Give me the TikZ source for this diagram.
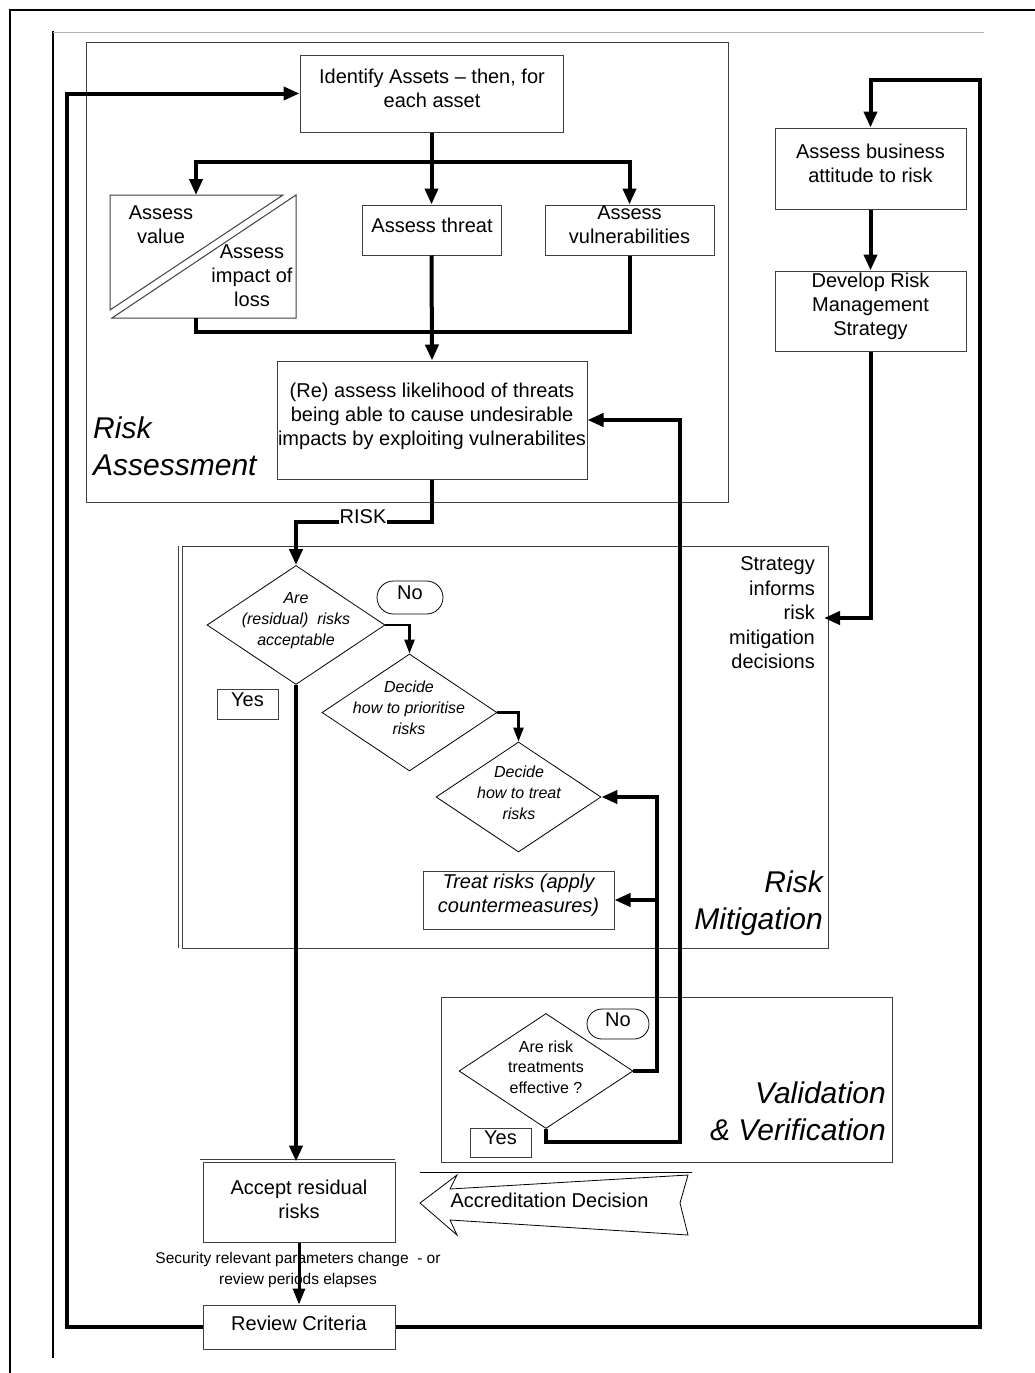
\documentclass[tikz,border=0pt]{standalone}
\usepackage{fontspec}
\setmainfont{Liberation Sans}
\usetikzlibrary{arrows.meta,shapes.geometric,shapes.misc}
\begin{document}
\begin{tikzpicture}[x=1pt,y=-1pt,
  frame/.style={draw=black!75,line width=1pt},
  boxonly/.style={draw=black!75,line width=1pt,fill=white,rectangle,inner sep=0pt},
  txt/.style={align=center,inner sep=0pt,font=\fontsize{20}{24}\selectfont},
  smalltxt/.style={align=center,inner sep=0pt,font=\fontsize{16}{20.5}\selectfont},
  ditxt/.style={align=center,inner sep=0pt,font=\fontsize{16}{21}\selectfont\itshape},
  dia/.style={draw=black,line width=0.8pt,diamond,inner sep=0pt,fill=white},
  region/.style={inner sep=0pt,font=\fontsize{30}{37}\selectfont\itshape},
  conn/.style={line width=4pt,-{Triangle[length=16pt,width=13pt]}},
  wire/.style={line width=4pt},
  conn2/.style={line width=2.5pt,-{Triangle[length=14pt,width=10pt]}},
  pill/.style={draw=black,line width=0.8pt,rounded rectangle,inner sep=0pt,fill=white},
]
\fill[white] (0,0) rectangle (1035,1373);
\useasboundingbox (0,0) rectangle (1035,1373);

% page frames
\draw[line width=2pt] (10,1373) -- (10,10) -- (1035,10);
\draw[line width=2.5pt] (53,31) -- (53,1358);
\draw[black!30,line width=1pt] (53,32) -- (984,32);

% regions
\draw[frame] (86,42) rectangle (728,502);
\draw[frame] (182,546) rectangle (828,948);
\draw[frame] (178,546) -- (178,948);
\draw[frame] (441,997) rectangle (892,1162);

\node[region,anchor=west,align=left] (raLbl) at (93,446) {Risk\\Assessment};
\node[region,anchor=east,align=right] (rmLbl) at (823,903.5) {Risk\\Mitigation};
\node[region,anchor=east,align=right] (vvLbl) at (886,1111.5) {Validation\\\& Verification};

% boxes
\node[boxonly,minimum width=263pt,minimum height=77pt] (identify) at (431.5,93.5) {};
\node[txt] (identifyT) at (432,88) {Identify Assets -- then, for\\each asset};
\node[boxonly,minimum width=139pt,minimum height=50pt] (threat) at (431.5,230) {};
\node[txt] (threatT) at (432,225) {Assess threat};
\node[boxonly,minimum width=169pt,minimum height=50pt] (vuln) at (629.5,230) {};
\node[txt] (vulnT) at (629.5,225) {Assess\\vulnerabilities};
\node[boxonly,minimum width=191pt,minimum height=81pt] (business) at (870.5,168.5) {};
\node[txt] (businessT) at (870.5,163) {Assess business\\attitude to risk};
\node[boxonly,minimum width=191pt,minimum height=80pt] (develop) at (870.5,311) {};
\node[txt] (developT) at (870.5,306) {Develop Risk\\Management\\Strategy};
\node[boxonly,minimum width=310pt,minimum height=118pt] (reassess) at (432,420) {};
\node[txt] (reassessT) at (432,416) {(Re) assess likelihood of threats\\being able to cause undesirable\\impacts by exploiting vulnerabilites};
\node[boxonly,minimum width=191pt,minimum height=58pt] (treat) at (518.5,900) {};
\node[txt,font=\fontsize{20}{24}\selectfont\itshape] (treatT) at (518.5,895) {Treat risks (apply\\countermeasures)};
\node[boxonly,minimum width=192pt,minimum height=80pt] (accept) at (299,1202) {};
\node[txt] (acceptT) at (299,1199.5) {Accept residual\\risks};
\node[boxonly,minimum width=192pt,minimum height=44pt] (review) at (299,1327) {};
\node[txt] (reviewT) at (299,1323) {Review Criteria};
\draw[frame] (200,1159) -- (395,1159);

% value / impact split box
\draw[frame,fill=white] (110,195) -- (283,195) -- (110,310) -- cycle;
\draw[frame,fill=white] (296,195) -- (296,318) -- (112,318) -- cycle;
\coordinate (valtop) at (196,195);
\coordinate (valbot) at (196,318);
\node[txt] (valueT) at (161,225) {Assess\\value};
\node[txt] (impactT) at (252,276) {Assess\\impact of\\loss};

% diamonds
\node[dia,minimum width=178pt,minimum height=119pt] (d1) at (296,625) {};
\node[ditxt] (d1T) at (296,621) {Are\\(residual)\ \ risks\\acceptable};
\node[dia,minimum width=175pt,minimum height=117pt] (d2) at (409.5,712.5) {};
\node[ditxt] (d2T) at (409,708) {Decide\\how to prioritise\\risks};
\node[dia,minimum width=165pt,minimum height=110pt] (d3) at (518.5,797) {};
\node[ditxt] (d3T) at (519,793) {Decide\\how to treat\\risks};
\node[dia,minimum width=174pt,minimum height=115pt] (d4) at (546,1071) {};
\node[smalltxt] (d4T) at (546,1067) {Are risk\\treatments\\effective ?};

% yes / no labels
\node[pill,minimum width=66pt,minimum height=33pt] (no1) at (410,597.5) {};
\node[txt] (no1T) at (410,593) {No};
\node[boxonly,minimum width=61pt,minimum height=30pt] (yes1) at (247.5,704) {};
\node[txt] (yes1T) at (247.5,700) {Yes};
\node[pill,minimum width=62pt,minimum height=30pt] (no2) at (618,1024) {};
\node[txt] (no2T) at (618,1020) {No};
\node[boxonly,minimum width=61pt,minimum height=29pt] (yes2) at (500.5,1142.5) {};
\node[txt] (yes2T) at (500.5,1138) {Yes};

% strategy text
\node[txt,anchor=east,align=right,font=\fontsize{20}{24.5}\selectfont] (stratT) at (815,613) {Strategy\\informs\\risk\\mitigation\\decisions};

% accreditation arrow
\draw[line width=0.8pt,fill=white] (420,1203) -- (457,1175) -- (450,1189) -- (688,1175) -- (680,1203) -- (688,1235) -- (450,1220) -- (457,1235) -- cycle;
\draw[line width=0.8pt] (420,1172) -- (692,1172);
\node[txt] (accred) at (549.5,1200) {Accreditation Decision};

% connectors
\coordinate (split) at (432,162);
\coordinate (merge) at (432,332);
\draw[conn] (identify.south) -- (threat.north);
\draw[conn] (split) -| (valtop);
\draw[conn] (split) -| (vuln.north);
\draw[wire] (valbot) |- (merge);
\draw[wire] (vuln.south) |- (merge);
\draw[conn] (threat.south) -- (reassess.north);

\draw[conn] (reassess.south) -- ++(0,42) -| (d1.north);
\node[txt,fill=white,inner sep=1pt] (riskLbl) at (363,517) {RISK};

\draw[conn2] (d1.east) -| (d2.north);
\draw[conn2] (d2.east) -| (d3.north);
\draw[conn] (d1.south) -- (d1.south |- accept.north);

\coordinate (noR) at (657,1071);
\coordinate (noBr) at (657,900);
\draw[conn] (d4.east) -- (noR) |- (d3.east);
\draw[conn] (noBr) -- (treat.east);

\coordinate (fbB) at (680,1142);
\draw[conn] (d4.south) |- (fbB) |- (reassess.east);

\draw[conn] (business.south) -- (develop.north);
\coordinate (stratIn) at (824,618);
\draw[conn] (develop.south) |- (stratIn);

\node[smalltxt,font=\fontsize{15.5}{21}\selectfont] (secT) at (298,1270) {Security relevant parameters change\ \ - or\\review periods elapses};
\draw[line width=3pt,-{Triangle[length=16pt,width=12pt]}] (accept.south) -- (review.north);

\coordinate (loopL) at (67,1327);
\coordinate (loopR) at (980,1327);
\coordinate (loopTop) at (980,80);
\draw[conn] (review.west) -- (loopL) |- (identify.west);
\draw[conn] (review.east) -- (loopR) -- (loopTop) -| (business.north);
\end{tikzpicture}
\end{document}
